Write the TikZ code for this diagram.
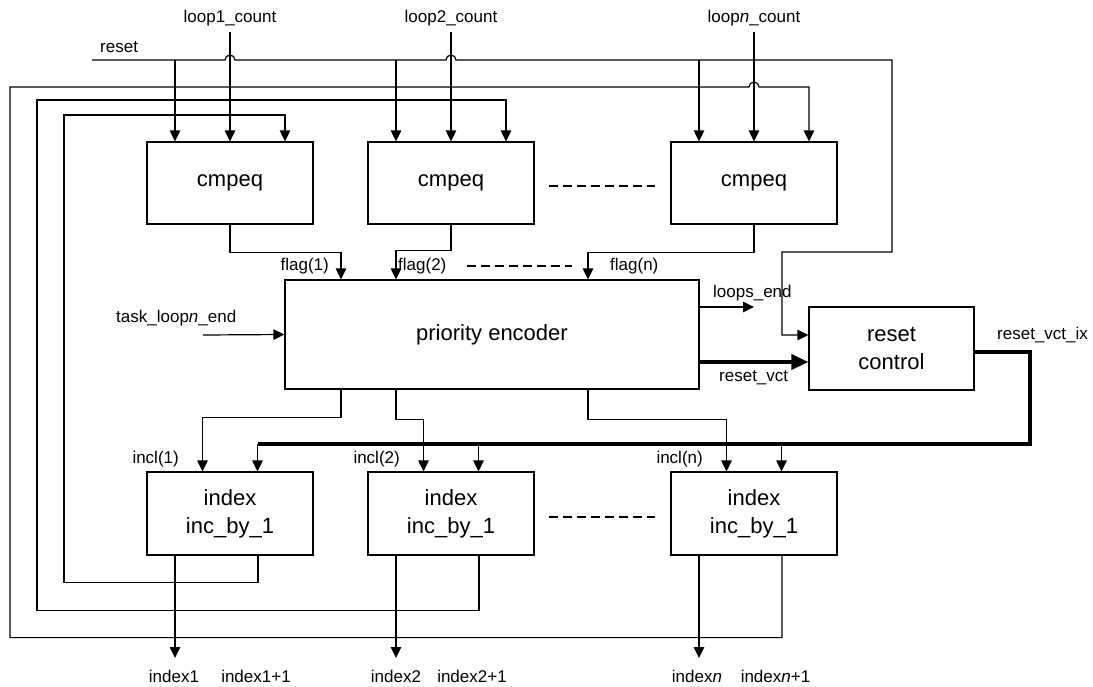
\documentclass[tikz,border=0pt]{standalone}
\usepackage{fontspec}
\setmainfont{Liberation Sans}
\usetikzlibrary{arrows.meta}

\begin{document}
\begin{tikzpicture}[
        x=1pt, y=-1pt,
        block/.style={
            draw, line width=1.2pt, inner sep=0pt, minimum width=166pt, minimum height=82pt,
            align=center, font=\fontsize{22}{28}\selectfont
        },
        lbl/.style={inner sep=0pt, font=\fontsize{17}{20}\selectfont},
        arr/.style={line width=1.2pt, -{Triangle[length=11pt,width=10.5pt]}},
        bus/.style={line width=3.5pt},
        dots/.style={line width=2pt, dash pattern=on 9pt off 5pt}
    ]
    \useasboundingbox (0,0) rectangle (1093,686);

    % blocks
    \node[block] (cmp1) at (230,183) {cmpeq};
    \node[block] (cmp2) at (451,183) {cmpeq};
    \node[block] (cmpn) at (754,183) {cmpeq};
    \node[block, minimum width=414pt, minimum height=109pt] (pe) at (492,334.5) {priority encoder};
    \node[block, minimum width=165pt, minimum height=83pt] (rc) at (891.5,348.5) {reset\\control};
    \node[block, minimum height=83pt] (idx1) at (230,513.5) {index\\inc\_by\_1};
    \node[block, minimum height=83pt] (idx2) at (451,513.5) {index\\inc\_by\_1};
    \node[block, minimum height=83pt] (idxn) at (754,513.5) {index\\inc\_by\_1};

    % labels
    \node[lbl] (lc1) at (230,18) {loop1\_count};
    \node[lbl] (lc2) at (451,18) {loop2\_count};
    \node[lbl] (lcn) at (754,18) {loop\textit{n}\_count};
    \node[lbl, anchor=west] (rst) at (100,47) {reset};
    \node[lbl, anchor=east] (f1) at (329,266) {flag(1)};
    \node[lbl, anchor=west] (f2) at (398,266) {flag(2)};
    \node[lbl, anchor=west] (fn) at (610,266) {flag(n)};
    \node[lbl, anchor=west] (tle) at (116,318) {task\_loop\textit{n}\_end};
    \node[lbl, anchor=west] (le) at (713,293) {loops\_end};
    \node[lbl, anchor=west] (rv) at (719,378) {reset\_vct};
    \node[lbl, anchor=west] (rvi) at (997,335) {reset\_vct\_ix};
    \node[lbl, anchor=east] (in1) at (179,459) {incl(1)};
    \node[lbl, anchor=east] (in2) at (400,459) {incl(2)};
    \node[lbl, anchor=east] (inn) at (703,459) {incl(n)};
    \node[lbl] (o1) at (174,676) {index1};
    \node[lbl] (p1) at (256,676) {index1+1};
    \node[lbl] (o2) at (396,676) {index2};
    \node[lbl] (p2) at (472,676) {index2+1};
    \node[lbl] (on) at (697,676) {index\textit{n}};
    \node[lbl] (pn) at (775.5,676) {index\textit{n}+1};

    \coordinate (r0) at (92,60);
    \coordinate (r1) at (175,60);
    \coordinate (r2) at (396,60);
    \coordinate (rn) at (699,60);
    \coordinate (ti) at (203,335);
    \coordinate (leo) at (754,307);
    \coordinate (b1) at (257.5,444);
    \coordinate (b2) at (478.5,444);
    \coordinate (bn) at (781.5,444);
    \coordinate (q1) at (175,658);
    \coordinate (q2) at (396,658);
    \coordinate (qn) at (699,658);

    % loop counts and reset
    \draw[arr, shorten <=6pt] (lc1) -- (cmp1);
    \draw[arr, shorten <=6pt] (lc2) -- (cmp2);
    \draw[arr, shorten <=6pt] (lcn) -- (cmpn);
    \draw[arr] (r0) -- (225,60) arc (180:360:5) -- (446,60) arc (180:360:5)
        -- (892,60) |- (782,252) |- ([yshift=13.5pt]rc.west);
    \foreach \jn/\blk in {r1/cmp1, r2/cmp2, rn/cmpn}
        \draw[arr] (\jn) -- (\jn |- \blk.north);

    % feedback of the indexes
    \draw[arr] ([xshift=28pt]idx1.south) -- ++(0,27) -| (64,115) -| ([xshift=55pt]cmp1.north);
    \draw[arr] ([xshift=28pt]idx2.south) -- ++(0,55) -| (37,100) -| ([xshift=55pt]cmp2.north);
    \draw[arr] ([xshift=28pt]idxn.south) -- ++(0,82) -| (10,87) -- (749,87) arc (180:360:5)
        -| ([xshift=55pt]cmpn.north);

    % flags
    \draw[arr] (cmp1.south) -- ++(0,28) -| ([xshift=-151pt]pe.north);
    \draw[arr] (cmp2.south) -- ++(0,26) -| ([xshift=-96pt]pe.north);
    \draw[arr] (cmpn.south) -- ++(0,28) -| ([xshift=96pt]pe.north);
    \draw[dots] ([xshift=20pt]f2.east) -- ([xshift=-38pt]fn.west);

    \draw[arr] (ti) -- (pe.west);
    \draw[arr] ([yshift=27.5pt]pe.east) -- (leo);
    \draw[bus, -{Triangle[length=17pt,width=15pt]}] ([yshift=-27.5pt]pe.east) -- ([yshift=-13.5pt]rc.west);
    \draw[bus] ([yshift=-3.5pt]rc.east) -| (1030,444) -- (b1);
    \foreach \jn/\blk in {b1/idx1, b2/idx2, bn/idxn}
        \draw[arr] (\jn) -- (\jn |- \blk.north);

    % incl
    \draw[arr] ([xshift=-151pt]pe.south) -- ++(0,28) -| ([xshift=-27.5pt]idx1.north);
    \draw[arr] ([xshift=-96pt]pe.south) -- ++(0,29.5) -| ([xshift=-27.5pt]idx2.north);
    \draw[arr] ([xshift=96pt]pe.south) -- ++(0,29.5) -| ([xshift=-27.5pt]idxn.north);

    \foreach \jn/\blk in {q1/idx1, q2/idx2, qn/idxn}
        \draw[arr] (\jn |- \blk.south) -- (\jn);

    \draw[dots] ([xshift=14pt,yshift=-3pt]cmp2.east) -- ([xshift=-15pt,yshift=-3pt]cmpn.west);
    \draw[dots] ([xshift=14pt,yshift=-3.5pt]idx2.east) -- ([xshift=-15pt,yshift=-3.5pt]idxn.west);
\end{tikzpicture}
\end{document}
